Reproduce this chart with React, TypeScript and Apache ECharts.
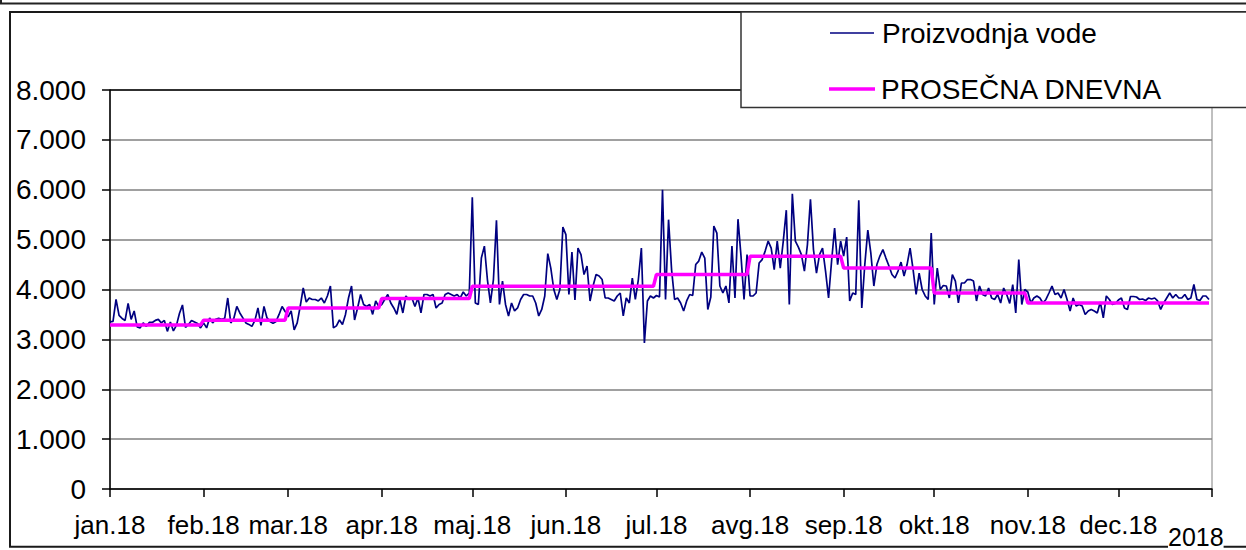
import React, { useEffect, useRef } from "react";
import * as echarts from "echarts";

const monthLabels = ["jan.18", "feb.18", "mar.18", "apr.18", "maj.18", "jun.18", "jul.18", "avg.18", "sep.18", "okt.18", "nov.18", "dec.18"];
const monthDays = [31, 28, 31, 30, 31, 30, 31, 31, 30, 31, 30, 31];

const jan = [3350, 3360, 3800, 3480, 3420, 3380, 3720, 3400, 3570, 3250, 3230, 3330, 3260, 3340, 3340, 3380, 3400, 3330, 3380, 3160, 3350, 3170, 3280, 3520, 3690, 3240, 3300, 3380, 3350, 3320, 3230];
const feb = [3330, 3230, 3430, 3330, 3400, 3420, 3400, 3420, 3830, 3330, 3420, 3660, 3530, 3430, 3330, 3300, 3260, 3380, 3630, 3280, 3660, 3430, 3360, 3320, 3360, 3500, 3660, 3560];
const mar = [3450, 3570, 3190, 3330, 3660, 4030, 3750, 3830, 3800, 3800, 3770, 3830, 3730, 3870, 4070, 3230, 3270, 3390, 3300, 3500, 3830, 4070, 3390, 3630, 3900, 3700, 3660, 3700, 3500, 3770, 3660];
const apr = [3700, 3800, 3900, 3730, 3630, 3500, 3800, 3530, 3870, 3800, 3830, 3660, 3830, 3530, 3900, 3900, 3870, 3900, 3630, 3700, 3730, 3900, 3930, 3900, 3870, 3900, 3830, 3950, 3870, 3930];
const may = [5850, 3730, 3700, 4630, 4870, 4200, 3730, 4200, 5390, 3700, 4170, 3700, 3470, 3730, 3570, 3630, 3800, 3900, 3900, 3870, 3870, 3730, 3470, 3600, 3870, 4720, 4430, 4000, 3800, 4000, 5250];
const jun = [5100, 3900, 4750, 3790, 4830, 4700, 4300, 4470, 3770, 4070, 4300, 4270, 4200, 3830, 3830, 3800, 3770, 3870, 3930, 3470, 3830, 3730, 4230, 3800, 4200, 4830, 2930, 3770, 3870, 3830];
const jul = [3880, 3850, 6000, 3800, 5400, 4400, 3800, 3830, 3730, 3570, 3770, 3900, 3880, 4500, 4570, 4750, 4630, 3600, 3850, 5270, 5130, 4070, 3930, 4070, 3730, 4870, 3830, 5410, 4670, 3800, 4700];
const aug = [3870, 3870, 3930, 4530, 4600, 4770, 4970, 4830, 4400, 4970, 4430, 4970, 5590, 3700, 5920, 4970, 4850, 4700, 4370, 4900, 5810, 4800, 4330, 4700, 4830, 4370, 3830, 4570, 5230, 4500, 4970];
const sep = [4670, 5050, 3770, 3930, 3900, 5790, 3630, 4500, 5190, 4730, 4070, 4500, 4670, 4800, 4630, 4470, 4300, 4230, 4370, 4550, 4270, 4500, 4830, 4400, 3900, 4330, 4000, 3870, 3800, 5130];
const oct = [3700, 4430, 4000, 4080, 4070, 3830, 4300, 4170, 3730, 4130, 4130, 4200, 4200, 4170, 3770, 4070, 3900, 3870, 4030, 3830, 3800, 3900, 3730, 4030, 3900, 3720, 4100, 3530, 4600, 3700, 4000];
const nov = [3950, 3730, 3830, 3870, 3830, 3730, 3800, 3930, 4070, 3900, 3930, 3830, 4000, 3800, 3570, 3830, 3670, 3700, 3670, 3500, 3570, 3600, 3570, 3530, 3750, 3430, 3870, 3800, 3700, 3720];
const dec = [3790, 3830, 3630, 3600, 3860, 3860, 3850, 3800, 3810, 3780, 3830, 3810, 3830, 3770, 3600, 3730, 3830, 3930, 3830, 3900, 3830, 3830, 3900, 3800, 3830, 4100, 3800, 3780, 3870, 3870, 3800];

const monthlyAverage = [3290, 3385, 3630, 3820, 4065, 4065, 4300, 4665, 4430, 3930, 3730, 3730];

const yearLabel = "2018";
const seriesNames = ["Proizvodnja vode", "PROSEČNA DNEVNA"];

const FONT = "'Liberation Sans', Arial, sans-serif";

export default function App() {
  const ref = useRef<HTMLDivElement>(null);

  useEffect(() => {
    if (!ref.current) return;
    const chart = echarts.init(ref.current, null, { renderer: "svg" });

    const daily = [jan, feb, mar, apr, may, jun, jul, aug, sep, oct, nov, dec].flat();
    const avgDaily: number[] = [];
    monthDays.forEach((n, m) => {
      for (let i = 0; i < n; i++) avgDaily.push(monthlyAverage[m]);
    });

    const starts: number[] = [];
    let acc = 0;
    monthDays.forEach((n) => {
      starts.push(acc);
      acc += n;
    });
    const totalDays = acc; // 365
    const tickSet = new Set<number>([...starts, totalDays]);
    const labelMap = new Map<number, string>();
    starts.forEach((s, i) => labelMap.set(s, monthLabels[i]));

    const categories: string[] = [];
    for (let i = 0; i <= totalDays; i++) categories.push(String(i));

    const splitColors = ["#808080", "#808080", "#808080", "#808080", "#808080", "#808080", "#808080", "#808080", "#000000"];

    const option: any = {
      animation: false,
      backgroundColor: "#ffffff",
      grid: {
        left: 110,
        right: 34,
        top: 90,
        bottom: 61,
        show: true,
        borderColor: "#808080",
        borderWidth: 1,
        backgroundColor: "transparent",
      },
      xAxis: {
        type: "category",
        data: categories,
        boundaryGap: false,
        axisLine: { show: true, lineStyle: { color: "#000", width: 1.5 } },
        axisTick: {
          show: true,
          length: 8,
          inside: false,
          interval: (i: number) => tickSet.has(i),
          lineStyle: { color: "#000", width: 1.5 },
        },
        axisLabel: {
          interval: (i: number) => labelMap.has(i),
          formatter: (_v: string, i: number) => labelMap.get(i) ?? "",
          fontSize: 26,
          lineHeight: 26,
          fontFamily: FONT,
          color: "#000",
          margin: 23,
        },
        splitLine: { show: false },
      },
      yAxis: {
        type: "value",
        min: 0,
        max: 8000,
        interval: 1000,
        axisLine: { show: true, lineStyle: { color: "#000", width: 1.5 } },
        axisTick: { show: true, length: 8, lineStyle: { color: "#000", width: 1.5 } },
        axisLabel: {
          formatter: (v: number) => (v === 0 ? "0" : `${v / 1000}.000`),
          fontSize: 28,
          fontFamily: FONT,
          color: "#000",
          margin: 24,
        },
        splitLine: { show: true, lineStyle: { color: splitColors, width: 1.5 } },
      },
      series: [
        {
          name: seriesNames[0],
          type: "line",
          data: daily,
          symbol: "none",
          lineStyle: { color: "#000080", width: 1.7 },
          itemStyle: { color: "#000080" },
          z: 3,
        },
        {
          name: seriesNames[1],
          type: "line",
          data: avgDaily,
          symbol: "none",
          lineStyle: { color: "#ff00ff", width: 3.5 },
          itemStyle: { color: "#ff00ff" },
          z: 4,
        },
      ],
      graphic: [
        { type: "line", shape: { x1: 0, y1: 3.5, x2: 1246, y2: 3.5 }, style: { stroke: "#222", lineWidth: 2 }, z: 50 },
        { type: "line", shape: { x1: 1, y1: 0, x2: 1, y2: 4 }, style: { stroke: "#222", lineWidth: 2 }, z: 50 },
        { type: "rect", shape: { x: 10, y: 12, width: 1300, height: 534.7 }, style: { fill: "none", stroke: "#1a1a1a", lineWidth: 2 }, z: 50 },
        { type: "rect", shape: { x: 741, y: 12, width: 600, height: 95.5 }, style: { fill: "#fff", stroke: "#333", lineWidth: 1.5 }, z: 100 },
        { type: "line", shape: { x1: 830, y1: 33, x2: 874, y2: 33 }, style: { stroke: "#000080", lineWidth: 1.7 }, z: 101 },
        { type: "text", x: 882, y: 33, style: { text: seriesNames[0], fontSize: 28, fontFamily: FONT, fill: "#000", align: "left", verticalAlign: "middle" }, z: 101 },
        { type: "line", shape: { x1: 829, y1: 89, x2: 875, y2: 89 }, style: { stroke: "#ff00ff", lineWidth: 3.5 }, z: 101 },
        { type: "text", x: 881, y: 89, style: { text: seriesNames[1], fontSize: 28, fontFamily: FONT, fill: "#000", align: "left", verticalAlign: "middle" }, z: 101 },
        { type: "text", x: 1168, y: 549, style: { text: yearLabel, fontSize: 25, lineHeight: 25, fontFamily: FONT, fill: "#000", align: "left", verticalAlign: "bottom", backgroundColor: "#fff" }, z: 102 },
      ],
    };

    chart.setOption(option);
    return () => chart.dispose();
  }, []);

  return (
    <div
      ref={ref}
      style={{ position: "absolute", left: 0, top: 0, width: 1246, height: 550, background: "#fff" }}
    />
  );
}
